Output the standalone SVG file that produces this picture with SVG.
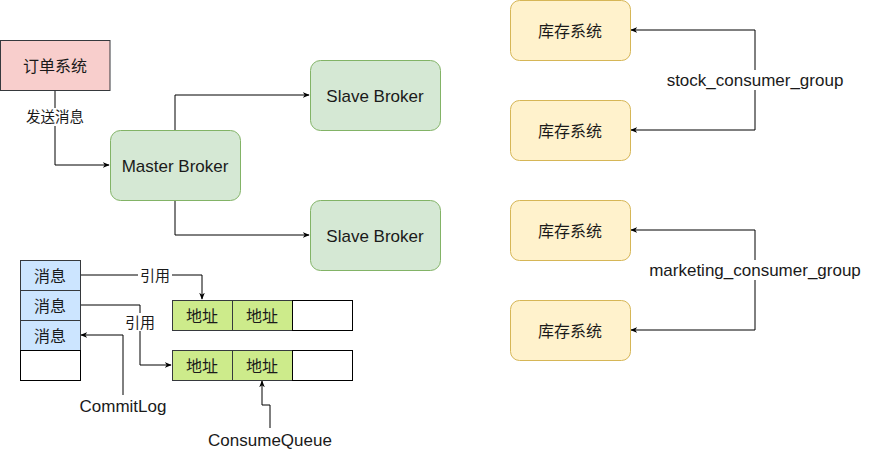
<svg xmlns="http://www.w3.org/2000/svg" width="871" height="451" viewBox="0 0 871 451">
<defs>
<marker id="arr" viewBox="0 0 10 10" refX="9" refY="5" markerWidth="7" markerHeight="7" orient="auto" markerUnits="userSpaceOnUse">
<path d="M0,1 L10,5 L0,9 L3,5 Z" fill="#000"/>
</marker>
<style>
text{font-family:"Liberation Sans","Noto Sans CJK SC",sans-serif;font-size:17px;fill:#1a1a1a;text-anchor:middle;dominant-baseline:central}
.cjk{font-size:16px}
.sm{font-size:14.5px}
.ref{font-size:15px}
.red{fill:#f8cecc;stroke:#36393d;stroke-width:1}
.grn{fill:#d5e8d4;stroke:#82b366;stroke-width:1}
.ylw{fill:#fff2cc;stroke:#d6b656;stroke-width:1}
.blu{fill:#cce5ff;stroke:#36393d;stroke-width:1}
.lim{fill:#cdeb8b;stroke:#36393d;stroke-width:1}
.wht{fill:#fff;stroke:#000;stroke-width:1}
.ln{fill:none;stroke:#000;stroke-width:1}
.lbl{fill:#fff;stroke:none}
</style>
</defs>
<rect width="871" height="451" fill="#fff"/>
<g id="connectors">
<path class="ln" d="M55,90 V165 H109" marker-end="url(#arr)"/>
<path class="ln" d="M175,130 V95 H309" marker-end="url(#arr)"/>
<path class="ln" d="M175,200 V235 H309" marker-end="url(#arr)"/>
<path class="ln" d="M755,80 V30 H631" marker-end="url(#arr)"/>
<path class="ln" d="M755,80 V130 H631" marker-end="url(#arr)"/>
<path class="ln" d="M755,270 V230 H631" marker-end="url(#arr)"/>
<path class="ln" d="M755,270 V330 H631" marker-end="url(#arr)"/>
<path class="ln" d="M80,275 H202 V299" marker-end="url(#arr)"/>
<path class="ln" d="M80,305 H140 V365 H171" marker-end="url(#arr)"/>
<path class="ln" d="M123,395 V335 H81" marker-end="url(#arr)"/>
<path class="ln" d="M270,428 V405 H262 V381" marker-end="url(#arr)"/>
<rect class="lbl" x="23" y="108" width="64" height="18"/>
<text class="sm" x="55" y="117">发送消息</text>
<rect class="lbl" x="666" y="70" width="178" height="20"/>
<text x="755" y="80">stock_consumer_group</text>
<rect class="lbl" x="648" y="260" width="214" height="20"/>
<text x="755" y="270">marketing_consumer_group</text>
<rect class="lbl" x="138" y="266" width="34" height="18"/>
<text class="ref" x="155" y="275">引用</text>
<rect class="lbl" x="123" y="313" width="34" height="18"/>
<text class="ref" x="140" y="322">引用</text>
</g>
<g id="order"><rect class="red" x="0.5" y="40.5" width="109.5" height="50"/><text class="cjk" x="55" y="66">订单系统</text></g>
<g id="master"><rect class="grn" x="110.5" y="130.5" width="130" height="70" rx="10"/><text x="175" y="166">Master Broker</text></g>
<g id="slave1"><rect class="grn" x="310.5" y="60.5" width="130" height="70" rx="10"/><text x="375" y="96">Slave Broker</text></g>
<g id="slave2"><rect class="grn" x="310.5" y="200.5" width="130" height="70" rx="10"/><text x="375" y="236">Slave Broker</text></g>
<g id="stock1"><rect class="ylw" x="510.5" y="0.5" width="120" height="60" rx="9"/><text class="cjk" x="570" y="31">库存系统</text></g>
<g id="stock2"><rect class="ylw" x="510.5" y="100.5" width="120" height="60" rx="9"/><text class="cjk" x="570" y="131">库存系统</text></g>
<g id="stock3"><rect class="ylw" x="510.5" y="200.5" width="120" height="60" rx="9"/><text class="cjk" x="570" y="231">库存系统</text></g>
<g id="stock4"><rect class="ylw" x="510.5" y="300.5" width="120" height="60" rx="9"/><text class="cjk" x="570" y="331">库存系统</text></g>
<g id="commitlog">
<rect class="blu" x="20.5" y="260.5" width="60" height="30"/><text class="cjk" x="50" y="276">消息</text>
<rect class="blu" x="20.5" y="290.5" width="60" height="30"/><text class="cjk" x="50" y="306">消息</text>
<rect class="blu" x="20.5" y="320.5" width="60" height="30"/><text class="cjk" x="50" y="336">消息</text>
<rect class="wht" x="20.5" y="350.5" width="60" height="30"/>
</g>
<g id="queue1">
<rect class="lim" x="172.5" y="300.5" width="60" height="30"/><text class="cjk" x="202" y="316">地址</text>
<rect class="lim" x="232.5" y="300.5" width="60" height="30"/><text class="cjk" x="262" y="316">地址</text>
<rect class="wht" x="292.5" y="300.5" width="60" height="30"/>
</g>
<g id="queue2">
<rect class="lim" x="172.5" y="350.5" width="60" height="30"/><text class="cjk" x="202" y="366">地址</text>
<rect class="lim" x="232.5" y="350.5" width="60" height="30"/><text class="cjk" x="262" y="366">地址</text>
<rect class="wht" x="292.5" y="350.5" width="60" height="30"/>
</g>
<g id="commitlog-label"><text x="123" y="406">CommitLog</text></g>
<g id="consumequeue-label"><text x="270" y="440">ConsumeQueue</text></g>
</svg>
